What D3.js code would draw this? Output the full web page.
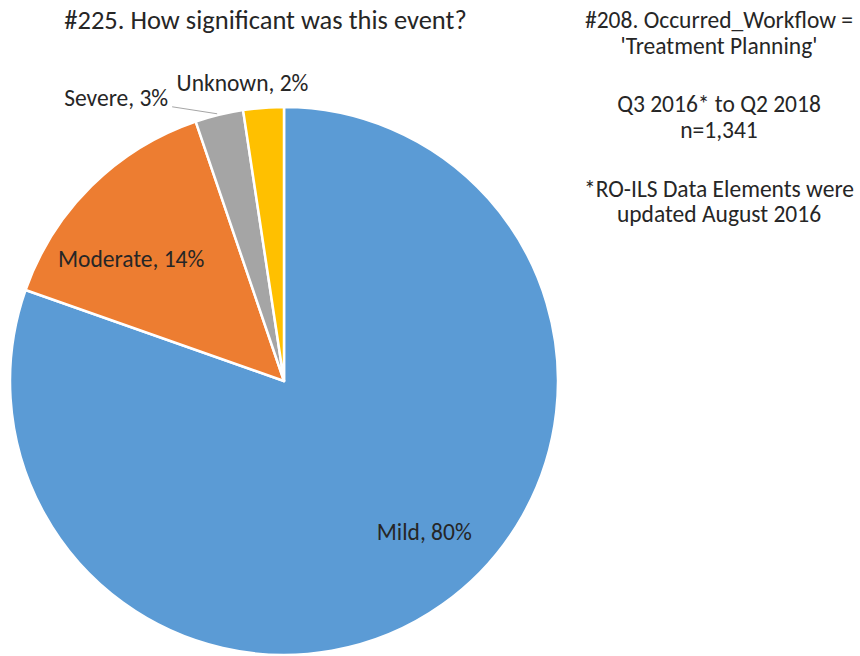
<!DOCTYPE html>
<html>
<head>
  <meta charset="utf-8">
  <title>#225. How significant was this event?</title>
  <script src="https://d3js.org/d3.v7.min.js"></script>
  <style>
    body { margin: 0; background: #fff; }
    svg { display: block; font-family: Carlito, Lato, "Open Sans", sans-serif; }
  </style>
</head>
<body>
<svg id="chart" width="860" height="656"></svg>
<script>
  // data (n = 1,341)
  var categories = ["Mild", "Moderate", "Severe", "Unknown"];
  var counts = [1078, 193, 38, 32];
  var colors = ["#5B9BD5", "#ED7D31", "#A5A5A5", "#FFC000"];
  var titleText = "#225. How significant was this event?";
  var noteGroups = [
    ["#208. Occurred_Workflow =", "'Treatment Planning'"],
    ["Q3 2016* to Q2 2018", "n=1,341"],
    ["*RO-ILS Data Elements were", "updated August 2016"]
  ];

  var svg = d3.select("#chart"),
    cx = 284, cy = 381, radius = 274;

  var total = d3.sum(counts);
  var rows = categories.map(function(c, i) {
    return { name: c, value: counts[i], color: colors[i] };
  });

  var pie = d3.pie().sort(null).value(function(d) { return d.value; });
  var arc = d3.arc().innerRadius(0).outerRadius(radius);
  var arcs = pie(rows);

  var g = svg.append("g").attr("transform", "translate(" + cx + "," + cy + ")");

  g.selectAll("path.slice")
    .data(arcs)
    .enter().append("path")
    .attr("class", "slice")
    .attr("d", arc)
    .attr("fill", function(d) { return d.data.color; })
    .attr("stroke", "#fff")
    .attr("stroke-width", 2.5)
    .attr("stroke-linejoin", "round");

  // label placement: point on the slice at r * radius, then nudged (baseline)
  var labelSetup = {
    Mild:     { r: 0.74, dx: 23, dy: -6, anchor: "middle" },
    Moderate: { r: 0.70, dx: -18, dy: 22, anchor: "middle" },
    Severe:   { r: 1.0, dx: -51, dy: -9, anchor: "end", leader: true },
    Unknown:  { r: 1.0, dx: -21, dy: -17, anchor: "middle" }
  };

  function pct(d) { return Math.round(d.value / total * 100) + "%"; }

  arcs.forEach(function(d) {
    var s = labelSetup[d.data.name];
    var p = d3.arc().innerRadius(radius * s.r).outerRadius(radius * s.r).centroid(d);
    var x = p[0] + s.dx, y = p[1] + s.dy;
    if (s.leader) {
      g.append("line")
        .attr("x1", p[0] - 2).attr("y1", p[1] - 1)
        .attr("x2", x + 4).attr("y2", y + 1)
        .attr("stroke", "#a6a6a6").attr("stroke-width", 1);
    }
    g.append("text")
      .attr("x", x).attr("y", y)
      .attr("text-anchor", s.anchor)
      .attr("font-size", 23.5)
      .attr("fill", "#262626")
      .text(d.data.name + ", " + pct(d.data));
  });

  svg.append("text")
    .attr("x", 265.5).attr("y", 29)
    .attr("text-anchor", "middle")
    .attr("font-size", 26.5)
    .attr("fill", "#262626")
    .text(titleText);

  // notes on the right: 25.5px line height, bigger gap between groups
  var notes = svg.append("g").attr("font-size", 23.5).attr("fill", "#262626")
    .attr("text-anchor", "middle");
  noteGroups.forEach(function(lines, gi) {
    lines.forEach(function(t, li) {
      notes.append("text")
        .attr("x", 719)
        .attr("y", 28 + gi * 84.3 + li * 25.5)
        .text(t);
    });
  });
</script>
</body>
</html>
